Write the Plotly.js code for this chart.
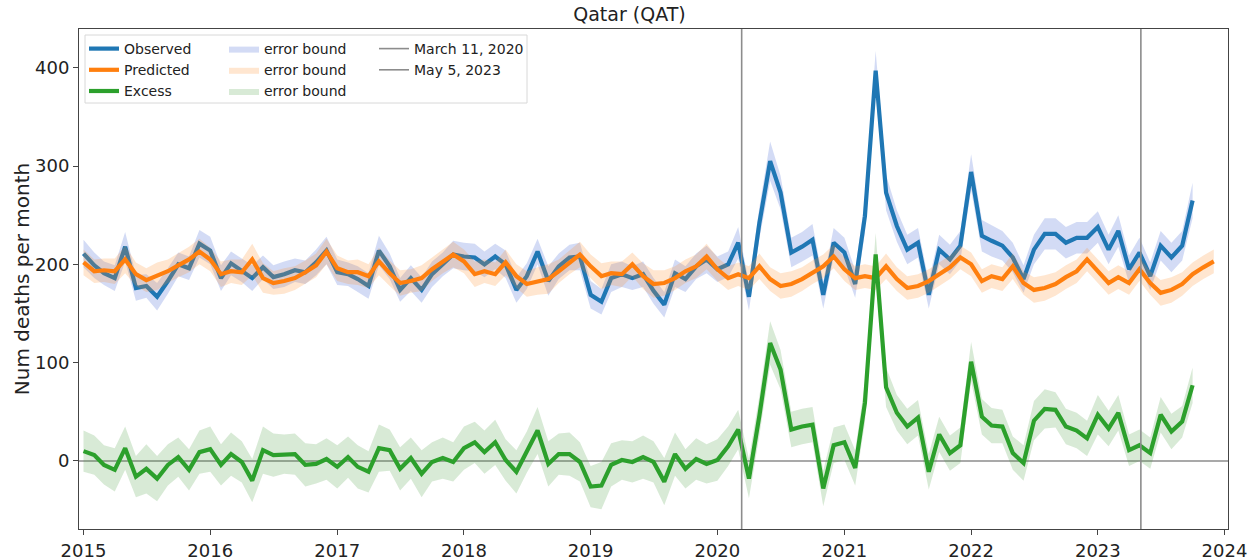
<!DOCTYPE html>
<html>
<head>
<meta charset="utf-8">
<script src="https://cdn.plot.ly/plotly-3.0.1.min.js"></script>
<style>html,body{margin:0;padding:0;background:#fff}</style>
</head>
<body>
<div id="chart" style="width:1259px;height:560px"></div>
<script>
// Monthly categories: Jan 2015 .. Dec 2023
const startYear = 2015, endYear = 2023;
const months = [];
for (let y = startYear; y <= endYear; y++) {
  for (let m = 1; m <= 12; m++) months.push(y + '-' + String(m).padStart(2, '0') + '-01');
}

// Observed deaths per month (Jan 2015 - Oct 2023)
const observed = [
  211,199,191,186,218,176,178,167,183,200,196,221,
  214,186,201,194,186,197,187,190,194,192,202,214,
  192,190,185,178,214,198,174,186,174,190,200,210,
  208,207,200,208,200,174,188,213,183,198,207,208,
  169,162,186,190,186,190,173,159,191,185,198,205,
  195,200,222,167,242,305,273,212,218,225,169,222,
  212,180,249,397,273,239,215,222,169,215,205,219,
  294,229,224,219,207,185,215,231,231,222,227,227,
  238,215,234,195,212,188,219,207,219,265
];
const observedErr = [
  14,13,12,13,15,13,12,14,13,12,12,14,
  14,13,12,12,13,12,12,13,12,12,13,14,
  13,12,13,13,15,13,12,13,13,13,12,14,
  14,14,13,13,14,13,13,13,15,13,13,14,
  14,13,14,13,12,13,13,13,14,13,13,14,
  13,13,16,14,16,20,17,15,15,16,14,15,
  15,14,17,20,18,16,15,15,14,15,15,15,
  18,16,16,15,15,14,15,16,16,16,16,16,
  16,15,16,14,15,14,15,15,15,18
];

// Predicted deaths per month (Jan 2015 - Dec 2023)
const predicted = [
  202,193,194,193,205,190,184,188,193,199,205,213,
  205,190,193,192,205,186,181,183,186,192,199,213,
  196,192,192,188,203,191,181,183,186,195,203,210,
  203,190,193,190,202,188,180,183,185,193,202,210,
  198,188,191,190,200,188,180,181,186,193,198,208,
  195,186,190,186,198,185,178,180,185,192,198,208,
  195,186,188,186,198,185,176,178,183,190,197,207,
  200,183,188,185,198,181,174,176,180,187,193,205,
  193,181,187,181,195,181,171,174,180,190,197,203
];
const predictedErr = [
  13,12,12,13,14,12,12,14,12,12,13,13,
  12,13,12,13,16,15,12,13,12,12,12,13,
  13,12,13,12,14,13,13,12,13,12,12,13,
  12,13,12,12,13,12,13,14,15,12,12,13,
  12,13,12,13,12,13,14,13,12,12,12,13,
  12,12,12,12,13,12,13,13,12,12,12,12,
  12,12,12,12,13,12,12,12,12,12,12,12,
  12,12,12,12,13,12,13,13,12,12,12,12,
  12,12,12,12,12,12,13,13,12,12,12,12
];

// Excess deaths per month (Jan 2015 - Oct 2023)
const excess = [
  10,6,-4,-9,13,-16,-8,-18,-4,4,-9,9,
  12,-4,7,-1,-20,11,6,7,7,-4,-3,2,
  -6,4,-6,-11,13,11,-8,3,-13,-1,3,-1,
  13,19,9,19,1,-11,9,31,-3,7,7,-1,
  -26,-25,-4,1,-1,4,-1,-21,7,-8,2,-3,
  1,15,32,-18,46,120,93,32,35,37,-28,16,
  19,-7,59,210,75,49,35,44,-11,27,8,16,
  101,45,36,35,8,-2,41,53,52,35,31,23,
  47,33,49,11,16,8,47,30,40,77
];
const excessErr = [
  21,20,20,22,22,21,25,23,21,20,21,22,
  23,21,22,21,22,24,22,20,21,22,20,21,
  22,21,22,21,24,21,22,21,24,20,21,20,
  22,21,22,23,21,22,21,24,23,21,22,20,
  21,24,22,20,21,22,21,24,22,20,21,20,
  21,20,20,20,20,22,20,18,18,18,18,18,
  18,18,20,22,20,18,18,18,18,18,18,18,
  20,18,18,17,17,18,20,20,18,18,18,18,
  20,18,18,16,16,16,18,18,16,18
];

// Event markers
const eventDates = ['2020-03-11', '2023-05-05'];
const eventNames = ['March 11, 2020', 'May 5, 2023'];

const yRange = [-69.2, 439.4];
const xRange = ['2014-12-19', '2024-01-11'];

function band(vals, err, sign) {
  return vals.map((v, i) => v + sign * err[i]);
}

const series = [
  {name: 'Observed', vals: observed, err: observedErr, color: '#1f77b4', fill: 'rgba(80,110,215,0.25)'},
  {name: 'Predicted', vals: predicted, err: predictedErr, color: '#ff7f0e', fill: 'rgba(255,140,40,0.22)'},
  {name: 'Excess', vals: excess, err: excessErr, color: '#2ca02c', fill: 'rgba(60,150,50,0.20)'}
];

const traces = [];
// zero line
traces.push({
  x: xRange, y: [0, 0], type: 'scatter', mode: 'lines', showlegend: false,
  line: {width: 1.6, color: '#8c8c8c'}, hoverinfo: 'skip'
});

series.forEach(s => {
  const x = months.slice(0, s.vals.length);
  traces.push({
    x: x, y: band(s.vals, s.err, -1), type: 'scatter', mode: 'lines',
    line: {width: 0, color: s.fill}, showlegend: false, hoverinfo: 'skip'
  });
  traces.push({
    x: x, y: band(s.vals, s.err, 1), type: 'scatter', mode: 'lines',
    line: {width: 0, color: s.fill}, fill: 'tonexty', fillcolor: s.fill,
    name: 'error bound', legend: 'legend2', hoverinfo: 'skip'
  });
  traces.push({
    x: x, y: s.vals, type: 'scatter', mode: 'lines', name: s.name,
    line: {width: 4.2, color: s.color}, legend: 'legend'
  });
});

eventDates.forEach((d, i) => {
  traces.push({
    x: [d, d], y: yRange, type: 'scatter', mode: 'lines', name: eventNames[i],
    line: {width: 1.6, color: '#8c8c8c'}, legend: 'legend3', hoverinfo: 'skip'
  });
});

const W = 1259, H = 560, ml = 79, mr = 31, mt = 29, mb = 31;
const pw = W - ml - mr, ph = H - mt - mb;
const px = p => (p - ml) / pw;
const py = p => (H - mb - p) / ph;

const legendFont = {family: 'DejaVu Sans, sans-serif', size: 14, color: '#222'};
const legendCommon = {font: legendFont, bgcolor: 'rgba(0,0,0,0)', borderwidth: 0,
  xanchor: 'left', yanchor: 'top', tracegroupgap: 0, itemwidth: 30, traceorder: 'normal'};

const layout = {
  width: W, height: H,
  margin: {l: ml, r: mr, t: mt, b: mb, pad: 0},
  paper_bgcolor: '#fff', plot_bgcolor: '#fff',
  font: {family: 'DejaVu Sans, sans-serif', color: '#222'},
  title: {text: 'Qatar (QAT)', font: {size: 19, color: '#222'}, x: 0.5, xanchor: 'center', y: 0.975, yanchor: 'middle'},
  xaxis: {
    type: 'date', range: xRange, tick0: '2015-01-01', dtick: 'M12', tickformat: '%Y',
    showgrid: false, zeroline: false, showline: true, mirror: true, linecolor: '#444', linewidth: 1,
    ticks: 'outside', ticklen: 5, tickcolor: '#444', tickfont: {size: 18, color: '#222'}
  },
  yaxis: {
    range: yRange, tickvals: [0, 100, 200, 300, 400],
    showgrid: false, zeroline: false, showline: true, mirror: true, linecolor: '#444', linewidth: 1,
    ticks: 'outside', ticklen: 5, tickcolor: '#444', tickfont: {size: 18, color: '#222'},
    title: {text: 'Num deaths per month', font: {size: 20, color: '#222'}, standoff: 0}
  },
  showlegend: true,
  legend: Object.assign({x: px(84), y: py(33)}, legendCommon),
  legend2: Object.assign({x: px(224), y: py(33)}, legendCommon),
  legend3: Object.assign({x: px(374), y: py(33)}, legendCommon),
  shapes: [{
    type: 'rect', xref: 'paper', yref: 'paper',
    x0: px(85), x1: px(527), y0: py(103), y1: py(35),
    line: {color: '#d8d8d8', width: 1}, fillcolor: 'rgba(255,255,255,0.8)', layer: 'above'
  }]
};

Plotly.newPlot('chart', traces, layout, {displayModeBar: false, staticPlot: true});
</script>
</body>
</html>
